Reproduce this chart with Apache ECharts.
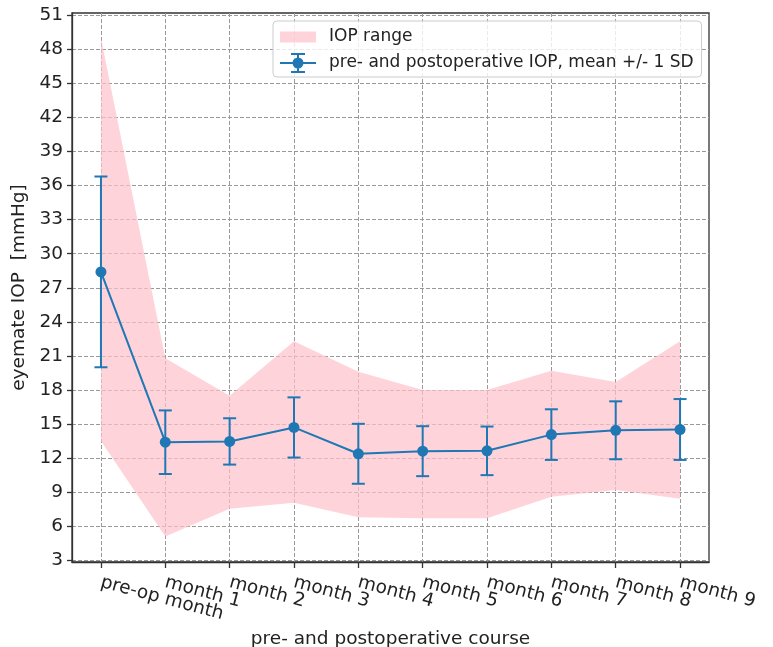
<!DOCTYPE html>
<html>
<head>
<meta charset="utf-8">
<script src="https://cdn.jsdelivr.net/npm/echarts@6/dist/echarts.min.js"></script>
<style>
  html, body { margin: 0; padding: 0; background: #fff; }
  #main { width: 773px; height: 647px; }
</style>
</head>
<body>
<div id="main"></div>
<script>
// values
const courseLabels = ['pre-op month', 'month 1', 'month 2', 'month 3', 'month 4',
  'month 5', 'month 6', 'month 7', 'month 8', 'month 9']
const meanIOP = [28.4, 13.4, 13.47, 14.7, 12.38, 12.61, 12.64, 14.07, 14.45, 14.52]
const sdIOP = [8.4, 2.8, 2.04, 2.65, 2.64, 2.2, 2.14, 2.23, 2.55, 2.68]
const rangeMin = [13.5, 5.1, 7.55, 8.07, 6.8, 6.7, 6.7, 8.6, 9.18, 8.42]
const rangeMax = [49.0, 20.8, 17.5, 22.3, 19.6, 18.0, 18.0, 19.7, 18.7, 22.3]
const yTicks = [3, 6, 9, 12, 15, 18, 21, 24, 27, 30, 33, 36, 39, 42, 45, 48, 51]

const blue = '#1f77b4'
const pinkFill = 'rgba(255,192,203,0.7)'
const font = 'DejaVu Sans'

const xIdx = courseLabels.map((_, i) => i)
// rotated labels overlap their neighbours, so even and odd ones go on two stacked axes
const xEven = xIdx.filter(i => i % 2 === 0)
const xOdd = xIdx.filter(i => i % 2 === 1)
const meanLine = xIdx.map(i => [i, meanIOP[i]])
const errData = xIdx.map(i => [i, meanIOP[i] - sdIOP[i], meanIOP[i] + sdIOP[i]])

// legend icons (errorbar glyph and a flat rect, both in 36x20 boxes)
const errIcon = 'path://M0,9L36,9L36,11L0,11Z M17,0L19,0L19,20L17,20Z M11,0L25,0L25,2L11,2Z M11,18L25,18L25,20L11,20Z M12.5,10A5.5,5.5 0 1,1 23.5,10A5.5,5.5 0 1,1 12.5,10Z'
const rectIcon = 'path://M0,0 M0,4.5L36,4.5L36,15.5L0,15.5Z M36,20'

const xLabelStyle = {
  showMinLabel: true,
  showMaxLabel: true,
  hideOverlap: false,
  rotate: -15,
  margin: 20,
  fontSize: 18.5,
  lineHeight: 8,
  color: '#222',
  formatter: v => courseLabels[Math.round(v)]
}

const chart = echarts.init(document.getElementById('main'))
chart.setOption({
  animation: false,
  textStyle: { fontFamily: font },
  grid: {
    left: 72, right: 64, top: 13, bottom: 85,
    outerBoundsMode: 'none',
    show: true, borderColor: '#333', borderWidth: 1.3
  },
  legend: {
    left: 273, top: 21,
    orient: 'vertical',
    padding: [6, 8, 4, 7],
    itemGap: 6,
    itemWidth: 36,
    itemHeight: 20,
    backgroundColor: 'rgba(255,255,255,0.8)',
    borderColor: '#ccc',
    borderWidth: 1,
    borderRadius: 4,
    textStyle: { fontSize: 17, color: '#222', fontFamily: font, padding: [0, 0, 0, 8] },
    data: [
      { name: 'IOP range', icon: rectIcon, itemStyle: { color: pinkFill, borderWidth: 0 } },
      { name: 'pre- and postoperative IOP, mean +/- 1 SD', icon: errIcon, itemStyle: { color: blue, borderWidth: 0 } }
    ]
  },
  xAxis: [
    {
      type: 'value',
      min: -0.45,
      max: 9.45,
      name: 'pre- and postoperative course',
      nameLocation: 'middle',
      nameGap: 68,
      nameTextStyle: { fontSize: 18.5, color: '#222' },
      axisLine: { onZero: false, lineStyle: { color: '#333', width: 1.3 } },
      axisTick: { customValues: xIdx, length: 6, lineStyle: { color: '#333', width: 1.3 } },
      axisLabel: Object.assign({ customValues: xEven }, xLabelStyle),
      splitLine: { show: true, lineStyle: { color: '#999', type: [4, 2], width: 1 } }
    },
    {
      type: 'value',
      position: 'bottom',
      min: -0.45,
      max: 9.45,
      axisLine: { show: false, onZero: false },
      axisTick: { show: false },
      splitLine: { show: false },
      axisLabel: Object.assign({ customValues: xOdd }, xLabelStyle)
    }
  ],
  yAxis: {
    type: 'value',
    min: 2.85,
    max: 51.2,
    name: 'eyemate IOP  [mmHg]',
    nameLocation: 'middle',
    nameGap: 35,
    nameTextStyle: { fontSize: 18.5, color: '#222' },
    axisLine: { show: true, onZero: false, lineStyle: { color: '#333', width: 1.3 } },
    axisTick: { show: true, customValues: yTicks, length: 5, lineStyle: { color: '#333', width: 1.3 } },
    axisLabel: { customValues: yTicks, showMinLabel: true, showMaxLabel: true, margin: 9, fontSize: 18.5, color: '#222' },
    splitLine: { show: true, lineStyle: { color: '#999', type: [4, 2], width: 1 } }
  },
  series: [
    {
      name: 'IOP range',
      type: 'custom',
      z: 1,
      silent: true,
      itemStyle: { color: pinkFill },
      data: [[0, rangeMin[0]]],
      renderItem: (params, api) => {
        const upper = xIdx.map(i => api.coord([i, rangeMax[i]]))
        const lower = xIdx.map(i => api.coord([i, rangeMin[i]])).reverse()
        return {
          type: 'polygon',
          shape: { points: upper.concat(lower) },
          style: { fill: pinkFill }
        }
      }
    },
    {
      name: 'errorbars',
      type: 'custom',
      z: 3,
      data: errData,
      encode: { x: 0, y: [1, 2] },
      renderItem: (params, api) => {
        const x = api.value(0)
        const lo = api.coord([x, api.value(1)])
        const hi = api.coord([x, api.value(2)])
        const cap = 6.5
        const st = { stroke: blue, lineWidth: 2 }
        return {
          type: 'group',
          children: [
            { type: 'line', shape: { x1: lo[0], y1: lo[1], x2: hi[0], y2: hi[1] }, style: st },
            { type: 'line', shape: { x1: lo[0] - cap, y1: lo[1], x2: lo[0] + cap, y2: lo[1] }, style: st },
            { type: 'line', shape: { x1: hi[0] - cap, y1: hi[1], x2: hi[0] + cap, y2: hi[1] }, style: st }
          ]
        }
      }
    },
    {
      name: 'pre- and postoperative IOP, mean +/- 1 SD',
      type: 'line',
      z: 4,
      data: meanLine,
      symbol: 'circle',
      symbolSize: 11,
      itemStyle: { color: blue },
      lineStyle: { color: blue, width: 2 }
    }
  ]
})
</script>
</body>
</html>
